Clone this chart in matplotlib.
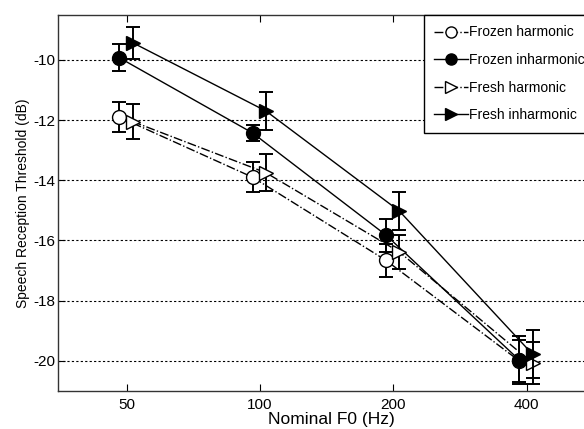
import matplotlib
matplotlib.use("Agg")
import matplotlib.pyplot as plt
from matplotlib.lines import Line2D
import numpy as np

plt.rcParams['font.family'] = ['Liberation Sans', 'DejaVu Sans']

f0 = np.array([50, 100, 200, 400])
xticklabels = ['50', '100', '200', '400']
yticks = [-20, -18, -16, -14, -12, -10]

frozen_harm = [-11.9, -13.9, -16.66, -20.0]
frozen_harm_err = [0.5, 0.5, 0.55, 0.7]
frozen_inharm = [-9.93, -12.43, -15.82, -19.97]
frozen_inharm_err = [0.45, 0.28, 0.55, 0.8]
fresh_harm = [-12.05, -13.75, -16.38, -20.07]
fresh_harm_err = [0.57, 0.62, 0.57, 0.7]
fresh_inharm = [-9.43, -11.7, -15.02, -19.78]
fresh_inharm_err = [0.53, 0.62, 0.63, 0.8]
labels = ['Frozen harmonic', 'Frozen inharmonic', 'Fresh harmonic', 'Fresh inharmonic']

W, H = 584, 429
fig = plt.figure(figsize=(W / 100, H / 100), dpi=100)
ax = fig.add_axes([58 / W, 1 - 391 / H, 546.5 / W, (391 - 14.7) / H])

x_frozen = f0 * 0.963
x_fresh = f0 * 1.032

series = [
    (x_frozen, frozen_harm, frozen_harm_err, 'o', 'white', '-.'),
    (x_frozen, frozen_inharm, frozen_inharm_err, 'o', 'black', '-'),
    (x_fresh, fresh_harm, fresh_harm_err, '>', 'white', '-.'),
    (x_fresh, fresh_inharm, fresh_inharm_err, '>', 'black', '-'),
]
for i, (x, y, e, m, fc, ls) in enumerate(series):
    ax.errorbar(x, y, yerr=e, fmt='none', ecolor='black', elinewidth=1.4,
                capsize=5, capthick=1.4, zorder=2 + i)
    ax.plot(x, y, color='black', linestyle=ls, linewidth=1.0, zorder=2 + i)
    ax.plot(x, y, linestyle='none', marker=m, markersize=10,
            markerfacecolor=fc, markeredgecolor='black', markeredgewidth=1.0,
            zorder=3 + i)

ax.set_xscale('log')
ax.set_xlim(35, 600)
ax.set_ylim(-21, -8.5)
ax.set_xticks(f0)
ax.set_xticklabels(xticklabels)
ax.xaxis.set_minor_locator(matplotlib.ticker.NullLocator())
ax.set_yticks(yticks)
ax.set_yticklabels([str(v) for v in yticks])
ax.tick_params(direction='in', top=True, right=True, labelsize=11, length=5,
               width=0.8, colors='black')
ax.tick_params(axis='y', pad=2)
ax.tick_params(axis='x', pad=5)
for y in yticks:
    ax.axhline(y, color='black', linestyle=(0, (2, 2)), linewidth=0.8, zorder=1)
for s in ax.spines.values():
    s.set_linewidth(1.0)
    s.set_color('#333333')

ax.set_xlabel('Nominal F0 (Hz)', fontsize=12.5, labelpad=0)
ax.set_ylabel('Speech Reception Threshold (dB)', fontsize=10, labelpad=2)

handles = []
for (x, y, e, m, fc, ls), lab in zip(series, labels):
    handles.append(Line2D([], [], color='black', linestyle=ls, linewidth=1.0,
                          marker=m, markersize=8, markerfacecolor=fc,
                          markeredgecolor='black', label=lab))
leg = fig.legend(handles=handles, loc='upper left',
                 bbox_to_anchor=(424 / W, 1 - 15 / H), bbox_transform=fig.transFigure,
                 borderaxespad=0, fontsize=10, frameon=True, fancybox=False,
                 edgecolor='black', framealpha=1, borderpad=0.75, labelspacing=0.98,
                 handlelength=2.4, handletextpad=0.1)
leg.get_frame().set_linewidth(1.0)

fig.savefig('out.png', dpi=100)
